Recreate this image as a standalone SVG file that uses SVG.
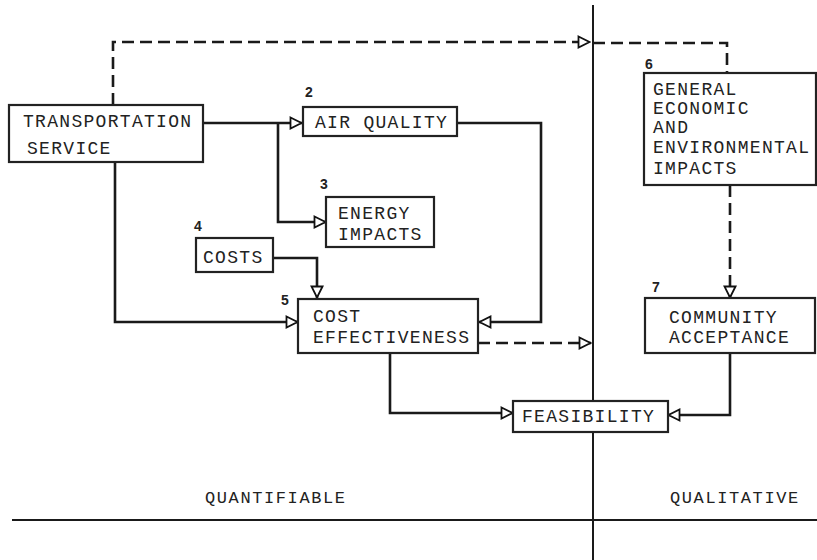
<svg xmlns="http://www.w3.org/2000/svg" width="817" height="560" viewBox="0 0 817 560">
<defs>
<marker id="arr" viewBox="0 0 14 14" refX="13" refY="7" markerWidth="14" markerHeight="14" markerUnits="userSpaceOnUse" orient="auto">
<path d="M1.5,1.5 L12.5,7 L1.5,12.5 Z" fill="#fff" stroke="#111" stroke-width="1.8"/>
</marker>
<style>
.box{fill:#fff;stroke:#222;stroke-width:2.2}
.t{font-family:"Liberation Mono","DejaVu Sans Mono",monospace;font-size:18px;letter-spacing:1.3px;fill:#222}
.n{font-family:"Liberation Sans","DejaVu Sans",sans-serif;font-size:14px;font-weight:bold;fill:#222}
.lab{font-family:"Liberation Mono","DejaVu Sans Mono",monospace;font-size:17px;letter-spacing:1.6px;fill:#222}
.c{fill:none;stroke:#1a1a1a;stroke-width:2.6}
.d{fill:none;stroke:#1a1a1a;stroke-width:2.6;stroke-dasharray:12 6}
.axis{stroke:#1a1a1a;stroke-width:2}
</style>
</defs>
<rect width="817" height="560" fill="#fff"/>

<g id="axes">
<line class="axis" x1="593" y1="5" x2="593" y2="560"/>
<line class="axis" x1="12" y1="520" x2="817" y2="520"/>
<text class="lab" x="205" y="503">QUANTIFIABLE</text>
<text class="lab" x="670" y="503">QUALITATIVE</text>
</g>

<g id="connectors">
<path class="d" d="M113,105 V42 H590" marker-end="url(#arr)"/>
<path class="d" d="M593,43 H727 V73"/>
<path class="c" d="M203,123 H302" marker-end="url(#arr)"/>
<path class="c" d="M278,123 V222 H326" marker-end="url(#arr)"/>
<path class="c" d="M457,123 H541 V322 H479" marker-end="url(#arr)"/>
<path class="c" d="M273,258 H317 V298" marker-end="url(#arr)"/>
<path class="c" d="M115,162 V322 H298" marker-end="url(#arr)"/>
<path class="d" d="M478,343 H591" marker-end="url(#arr)"/>
<path class="c" d="M390,353 V413 H513" marker-end="url(#arr)"/>
<path class="d" d="M730,185 V298" marker-end="url(#arr)"/>
<path class="c" d="M730,353 V415 H668" marker-end="url(#arr)"/>
</g>

<g id="n1">
<rect class="box" x="9" y="105" width="194" height="57"/>
<text class="t" x="23" y="127">TRANSPORTATION</text>
<text class="t" x="27" y="154">SERVICE</text>
</g>

<g id="n2">
<text class="n" x="305" y="97">2</text>
<rect class="box" x="303" y="107" width="154" height="29"/>
<text class="t" x="315" y="128">AIR QUALITY</text>
</g>

<g id="n3">
<text class="n" x="320" y="189">3</text>
<rect class="box" x="326" y="197" width="108" height="50"/>
<text class="t" x="338" y="219">ENERGY</text>
<text class="t" x="338" y="240">IMPACTS</text>
</g>

<g id="n4">
<text class="n" x="194" y="231">4</text>
<rect class="box" x="196" y="238" width="77" height="34"/>
<text class="t" x="203" y="263">COSTS</text>
</g>

<g id="n5">
<text class="n" x="281" y="305">5</text>
<rect class="box" x="298" y="299" width="180" height="54"/>
<text class="t" x="313" y="322">COST</text>
<text class="t" x="313" y="343">EFFECTIVENESS</text>
</g>

<g id="n6">
<text class="n" x="645" y="69">6</text>
<rect class="box" x="644" y="73" width="172" height="112"/>
<text class="t" x="653" y="95">GENERAL</text>
<text class="t" x="653" y="114">ECONOMIC</text>
<text class="t" x="653" y="133">AND</text>
<text class="t" x="653" y="153">ENVIRONMENTAL</text>
<text class="t" x="653" y="174">IMPACTS</text>
</g>

<g id="n7">
<text class="n" x="652" y="292">7</text>
<rect class="box" x="645" y="298" width="170" height="55"/>
<text class="t" x="669" y="323">COMMUNITY</text>
<text class="t" x="669" y="343">ACCEPTANCE</text>
</g>

<g id="n8">
<rect class="box" x="513" y="401" width="155" height="31"/>
<text class="t" x="522" y="422">FEASIBILITY</text>
</g>
</svg>
